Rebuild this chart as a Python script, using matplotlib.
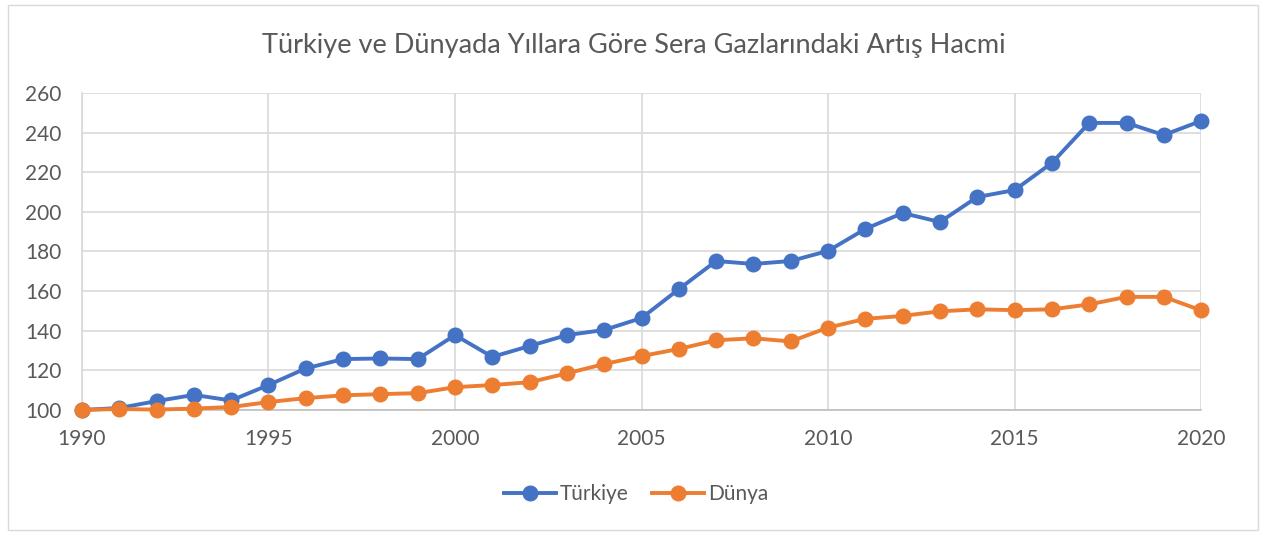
import matplotlib.pyplot as plt
from matplotlib.patches import Rectangle

# Veriler (1990 = 100)
years = list(range(1990, 2021))
turkiye = [100, 101, 104.5, 107.6, 104.8, 112.6, 121, 125.7, 126, 125.7,
           137.8, 126.8, 132.3, 137.8, 140.4, 146.4, 161, 175.2, 173.7, 175.2,
           180.3, 191.4, 199.4, 194.9, 207.5, 211, 224.7, 244.9, 244.9, 238.8,
           245.9]
dunya = [100, 100.5, 100.2, 100.7, 101.5, 104, 106, 107.4, 108, 108.5,
         111.5, 112.6, 114, 118.5, 123.2, 127.2, 130.8, 135.2, 136.2, 134.6,
         141.6, 146, 147.5, 149.8, 150.8, 150.4, 150.8, 153.3, 157.1, 157.1,
         150.3]
xticks = list(range(1990, 2021, 5))
yticks = list(range(100, 261, 20))

plt.rcParams['font.family'] = ['Lato', 'DejaVu Sans']
text_col = '#595959'
grid_col = '#d9d9d9'

fig = plt.figure(figsize=(12.67, 5.33), dpi=100)
ax = fig.add_axes([0.0647, 0.2308, 0.8833, 0.5947])

# Dis cerceve
fig.patches.append(Rectangle((0.006, 0.006), 0.987, 0.985, transform=fig.transFigure,
                             fill=False, edgecolor='#d9d9d9', linewidth=1))

ax.plot(years, turkiye, color='#4472C4', linewidth=2.8, marker='o',
        markersize=10.5, label='Türkiye', zorder=3, clip_on=False)
ax.plot(years, dunya, color='#ED7D31', linewidth=2.8, marker='o',
        markersize=10.5, label='Dünya', zorder=4, clip_on=False)

ax.set_xlim(1990, 2020)
ax.set_ylim(100, 260)
ax.set_xticks(xticks)
ax.set_yticks(yticks)
ax.grid(True, color=grid_col, linewidth=1.2)
ax.set_axisbelow(True)
for s in ['top', 'right']:
    ax.spines[s].set_visible(False)
ax.spines['left'].set_color(grid_col)
ax.spines['left'].set_linewidth(1.2)
ax.spines['bottom'].set_color('#bfbfbf')
ax.spines['bottom'].set_linewidth(1.2)
ax.tick_params(length=0, labelsize=15, labelcolor=text_col)
ax.tick_params(axis='x', pad=14)
ax.tick_params(axis='y', pad=15)

fig.text(0.5, 0.915, 'Türkiye ve Dünyada Yıllara Göre Sera Gazlarındaki Artış Hacmi',
         ha='center', va='center', fontsize=19.5, color=text_col)

fig.legend(loc='center', bbox_to_anchor=(0.502, 0.073), ncol=2, frameon=False,
           fontsize=15, labelcolor=text_col, handlelength=2.5,
           columnspacing=1.1, handletextpad=0.2)

fig.savefig('out.png', dpi=100)
